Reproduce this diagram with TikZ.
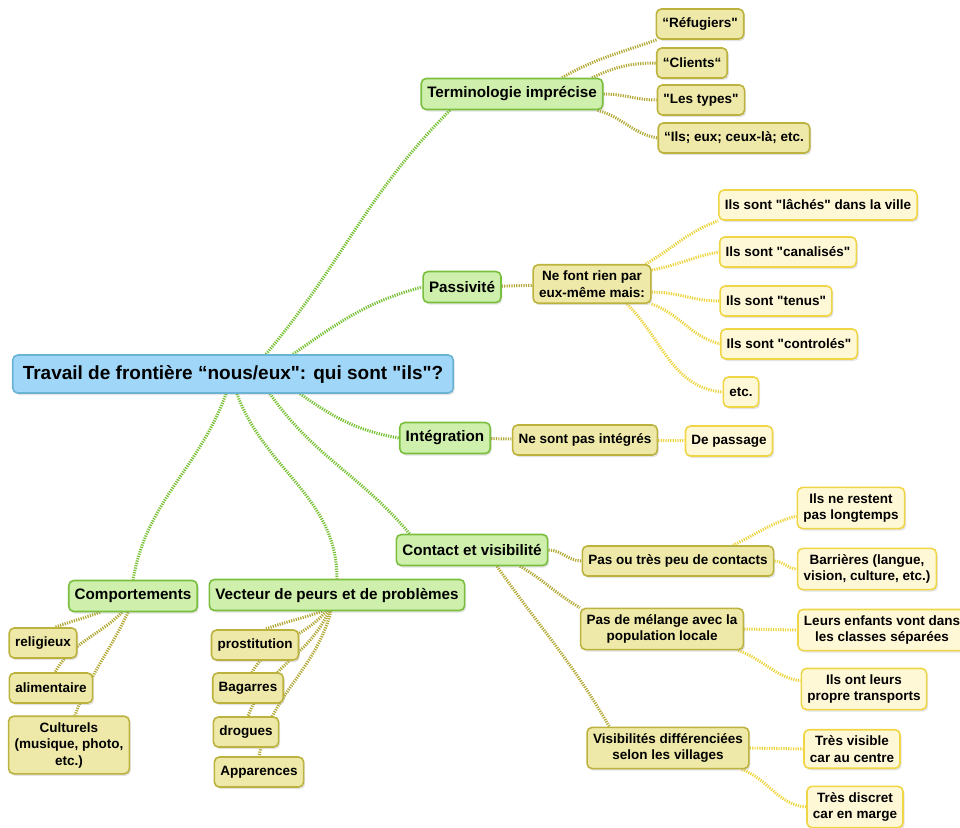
\documentclass[tikz,border=0pt]{standalone}
\usepackage{fontspec}
\setmainfont{Liberation Sans}[Ligatures=TeXOff]
\usepackage{tikz}
\usetikzlibrary{shapes,backgrounds,shadows}

\definecolor{rootfill}{RGB}{160,214,248}
\definecolor{rootline}{RGB}{105,180,212}
\definecolor{topicfill}{RGB}{206,240,172}
\definecolor{topicline}{RGB}{122,190,62}
\definecolor{subfill}{RGB}{238,233,168}
\definecolor{subline}{RGB}{188,178,62}
\definecolor{leaffill}{RGB}{255,248,214}
\definecolor{leafline}{RGB}{240,214,70}
\definecolor{greenlink}{RGB}{118,192,50}
\definecolor{olivelink}{RGB}{178,168,52}
\definecolor{yellowlink}{RGB}{238,212,62}

\begin{document}
\begin{tikzpicture}[x=1pt, y=-1pt]
		\tikzstyle{Box}      = [rectangle, rounded corners=5pt, line width=1.6pt, inner xsep=6pt, inner ysep=6pt, minimum height=30pt, align=center, drop shadow={shadow xshift=1.5pt, shadow yshift=-2pt, opacity=0.22}]
		\tikzstyle{Root}     = [Box, draw=rootline, fill=rootfill, minimum height=38pt, inner xsep=10pt, font=\bfseries\fontsize{19}{22}\selectfont]
		\tikzstyle{Topic}    = [Box, draw=topicline, fill=topicfill, minimum height=31pt, font=\bfseries\fontsize{15.2}{18}\selectfont]
		\tikzstyle{Sub}      = [Box, draw=subline, fill=subfill, font=\bfseries\fontsize{13.5}{16.5}\selectfont]
		\tikzstyle{Leaf}     = [Box, draw=leafline, fill=leaffill, font=\bfseries\fontsize{13.5}{16.5}\selectfont]
		\tikzstyle{RootLink} = [greenlink, line width=3pt, dash pattern=on 1.2pt off 1.2pt]
		\tikzstyle{SubLink}  = [olivelink, line width=3pt, dash pattern=on 1.2pt off 1.2pt]
		\tikzstyle{LeafLink} = [yellowlink, line width=3pt, dash pattern=on 1.2pt off 1.2pt]

		\useasboundingbox (0, 0) rectangle (960, 827);

		\node (root) at (233, 374) [Root] {Travail de frontière “nous/eux": qui sont "ils"?};

		% terminologie
		\node (term)   at (512, 94)  [Topic] {Terminologie imprécise};
		\node (ref)    at (700, 24)  [Sub] {“Réfugiers"};
		\node (cli)    at (692, 63)  [Sub] {“Clients“};
		\node (typ)    at (701, 100) [Sub] {"Les types"};
		\node (ilseux) at (734, 138) [Sub] {“Ils; eux; ceux-là; etc.};

		% passivite
		\node (pass)   at (462, 287) [Topic] {Passivité};
		\node (nefont) at (592, 284) [Sub] {Ne font rien par\\eux-même mais:};
		\node (lach)   at (818, 205) [Leaf] {Ils sont "lâchés" dans la ville};
		\node (canal)  at (788, 252) [Leaf] {Ils sont "canalisés"};
		\node (tenu)   at (776, 301) [Leaf] {Ils sont "tenus"};
		\node (contr)  at (789, 344) [Leaf] {Ils sont "controlés"};
		\node (etc)    at (741, 392) [Leaf] {etc.};

		% integration
		\node (integ)  at (445, 438) [Topic] {Intégration};
		\node (nesont) at (585, 440) [Sub] {Ne sont pas intégrés};
		\node (depas)  at (729, 441) [Leaf] {De passage};

		% contact
		\node (contact) at (472, 550) [Topic] {Contact et visibilité};
		\node (pasou)   at (678, 561) [Sub] {Pas ou très peu de contacts};
		\node (ilsne)   at (851, 508) [Leaf] {Ils ne restent\\pas longtemps};
		\node (barr)    at (867, 569) [Leaf] {Barrières (langue,\\vision, culture, etc.)};
		\node (pasde)   at (662, 629) [Sub] {Pas de mélange avec la\\population locale};
		\node (leurs)   at (882, 630) [Leaf] {Leurs enfants vont dans\\les classes séparées};
		\node (ilsont)  at (864, 689) [Leaf] {Ils ont leurs\\propre transports};
		\node (visi)    at (668, 748) [Sub] {Visibilités différenciées\\selon les villages};
		\node (tresv)   at (852, 749) [Leaf] {Très visible\\car au centre};
		\node (tresd)   at (855, 807) [Leaf] {Très discret\\car en marge};

		% comportements, vecteur
		\node (comp) at (133, 596) [Topic] {Comportements};
		\node (reli) at (43, 643)  [Sub] {religieux};
		\node (alim) at (51, 688)  [Sub] {alimentaire};
		\node (cult) at (69, 745)  [Sub] {Culturels\\(musique, photo,\\etc.)};
		\node (vect) at (337, 595) [Topic] {Vecteur de peurs et de problèmes};
		\node (pros) at (255, 645) [Sub] {prostitution};
		\node (baga) at (248, 688) [Sub] {Bagarres};
		\node (drog) at (246, 732) [Sub] {drogues};
		\node (appa) at (259, 772) [Sub] {Apparences};

		\begin{scope}[on background layer]
		\draw ([xshift=33]root.north) to [out=50, in=225] ([xshift=-62]term.south) [RootLink];
		\draw ([xshift=60]root.north) to [out=35, in=195] (pass.west) [RootLink];
		\draw ([xshift=67]root.south) to [out=-35, in=170] (integ.west) [RootLink];
		\draw ([xshift=37]root.south) to [out=-55, in=130] ([xshift=14]contact.north west) [RootLink];
		\draw ([xshift=4]root.south) to [out=-70, in=90] (vect.north) [RootLink];
		\draw ([xshift=-7]root.south) to [out=-110, in=80] (comp.north) [RootLink];

		\draw ([xshift=50]term.north) to [out=30, in=200] (ref) [SubLink];
		\draw ([xshift=80]term.north) to [out=25, in=180] (cli.west) [SubLink];
		\draw (term.east) to [out=0, in=180] (typ.west) [SubLink];
		\draw ([xshift=-6]term.south east) to [out=-15, in=170] (ilseux.west) [SubLink];

		\draw (pass) -- (nefont) [SubLink];
		\draw ([xshift=-6]nefont.north east) to [out=30, in=200] (lach.south west) [LeafLink];
		\draw ([yshift=14]nefont.east) to [out=10, in=190] (canal.west) [LeafLink];
		\draw ([yshift=-8]nefont.east) to [out=0, in=180] (tenu.west) [LeafLink];
		\draw (nefont.south east) to [out=-20, in=165] (contr.west) [LeafLink];
		\draw ([xshift=35]nefont.south) to [out=-45, in=175] (etc.west) [LeafLink];

		\draw (integ) -- (nesont) [SubLink];
		\draw (nesont) -- (depas) [LeafLink];

		\draw (contact.east) to [out=0, in=180] (pasou.west) [SubLink];
		\draw ([xshift=48]contact.south) to [out=-30, in=150] (pasde.north west) [SubLink];
		\draw ([xshift=25]contact.south) to [out=-55, in=120] ([xshift=23]visi.north west) [SubLink];

		\draw ([xshift=55]pasou.north) to [out=25, in=195] ([yshift=-8]ilsne.west) [LeafLink];
		\draw (pasou.east) to [out=0, in=180] (barr.west) [LeafLink];
		\draw (pasde.east) -- (leurs.west) [LeafLink];
		\draw ([xshift=-6]pasde.south east) to [out=-20, in=170] ([yshift=8]ilsont.west) [LeafLink];
		\draw (visi.east) -- (tresv.west) [LeafLink];
		\draw ([xshift=-8]visi.south east) to [out=-20, in=175] (tresd.west) [LeafLink];

		\draw ([xshift=-33]comp.south) to [out=200, in=20] ([xshift=12]reli.north) [SubLink];
		\draw ([xshift=-11]comp.south) to [out=-135, in=60] ([xshift=4]alim.north) [SubLink];
		\draw ([xshift=-5]comp.south) to [out=-115, in=70] ([xshift=6]cult.north) [SubLink];

		\draw ([xshift=-15]vect.south) to [out=-160, in=20] ([xshift=10]pros.north) [SubLink];
		\draw ([xshift=-11]vect.south) to [out=-130, in=60] ([xshift=4]baga.north) [SubLink];
		\draw ([xshift=-8]vect.south) to [out=-115, in=70] ([xshift=2]drog.north) [SubLink];
		\draw ([xshift=-6]vect.south) to [out=-105, in=80] (appa.north) [SubLink];
		\end{scope}
	\end{tikzpicture}
\end{document}
